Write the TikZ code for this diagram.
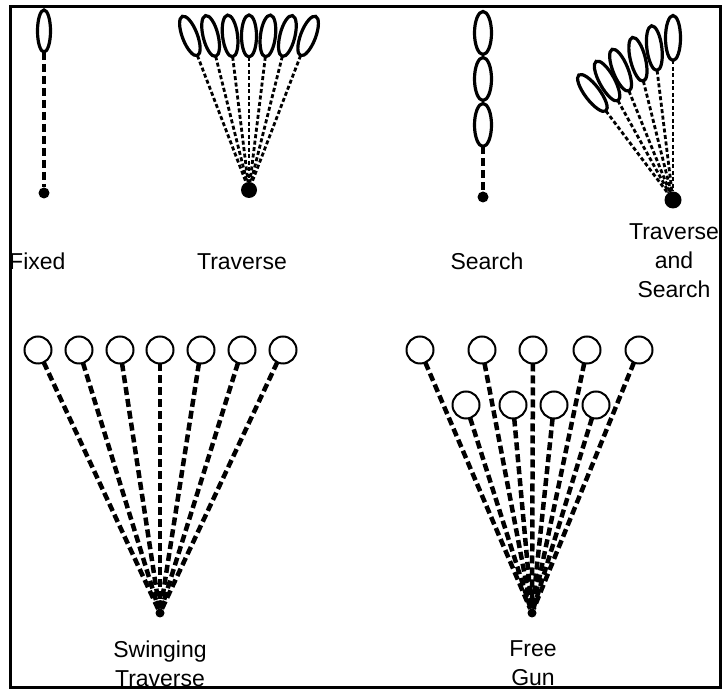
\documentclass[tikz,border=0pt]{standalone}
\usepackage{fontspec}
\setmainfont{Liberation Sans}
\usetikzlibrary{shapes.geometric,calc}
\begin{document}
\begin{tikzpicture}[x=1pt,y=1pt,
  ell/.style={ellipse,draw,line width=3.2pt,inner sep=0pt,outer sep=0pt,minimum width=15pt,minimum height=42pt},
  ring/.style={circle,draw,line width=2pt,inner sep=0pt,outer sep=0pt,minimum size=27pt},
  fine/.style={line width=2.8pt,dash pattern=on 4pt off 2.5pt},
  bold/.style={line width=4.5pt,dash pattern=on 8pt off 4pt},
  lbl/.style={font=\fontsize{23}{28}\selectfont,anchor=base,inner sep=0pt},
  dot/.style={circle,fill,inner sep=0pt,outer sep=0pt}]
\useasboundingbox (0,0) rectangle (722,690);
% Fixed
\node[ell,minimum width=13pt] (fxe) at (44,659) {};
\node[dot,minimum size=11pt] (fxd) at (44,497) {};
\draw[bold] (fxe) -- (fxd);
% Traverse
\node[dot,minimum size=16pt] (trd) at (249,500) {};
\foreach \a/\d [count=\i] in {21/165,14/158.7,7/155.2,0/154,-7/155.2,-14/158.7,-21/165}{
  \node[ell,rotate=\a] (tr\i) at ($(249,500)+(90+\a:\d)$) {};
  \draw[fine] (tr\i) -- (trd);
}
% Search
\node[ell,minimum width=17pt,minimum height=43pt] (se1) at (483,657) {};
\node[ell,minimum width=17pt,minimum height=43pt] (se2) at (483,611) {};
\node[ell,minimum width=17pt,minimum height=43pt] (se3) at (483,565) {};
\node[dot,minimum size=11pt] (sed) at (483,493) {};
\draw[bold] (se3) -- (sed);
% Traverse and Search
\node[dot,minimum size=17pt] (tsd) at (673,490) {};
\foreach \a/\d [count=\i] in {37/134,29/136,22/140,14/145,7/153,0/162}{
  \node[ell,minimum height=45pt,rotate=\a] (ts\i) at ($(673,490)+(90+\a:\d)$) {};
  \draw[fine] (ts\i) -- (tsd);
}
% Swinging Traverse
\node[dot,minimum size=9pt] (swd) at (160,77) {};
\foreach \x [count=\i] in {38,79,120,160,201,242,283}{
  \node[ring] (sw\i) at (\x,340) {};
  \draw[bold] (sw\i) -- (swd);
}
% Free Gun
\node[dot,minimum size=9pt] (fgd) at (532,77) {};
\foreach \x [count=\i] in {420,482,533,587,639}{
  \node[ring] (fa\i) at (\x,340) {};
  \draw[bold] (fa\i) -- (fgd);
}
\foreach \x [count=\i] in {466,513,554,596}{
  \node[ring] (fb\i) at (\x,285) {};
  \draw[bold] (fb\i) -- (fgd);
}
% Labels
\node[lbl,anchor=base west] (lfx) at (9,420) {Fixed};
\node[lbl] (ltr) at (242,420) {Traverse};
\node[lbl] (lse) at (487,420) {Search};
\node[lbl] (lts1) at (674,450) {Traverse};
\node[lbl] (lts2) at (674,421) {and};
\node[lbl] (lts3) at (674,392) {Search};
\node[lbl] (lsw1) at (160,32) {Swinging};
\node[lbl] (lsw2) at (160,4) {Traverse};
\node[lbl] (lfg1) at (533,34) {Free};
\node[lbl] (lfg2) at (533,5) {Gun};
% Frame
\draw[line width=3pt] (10,3) rectangle (720,683);
\end{tikzpicture}
\end{document}
